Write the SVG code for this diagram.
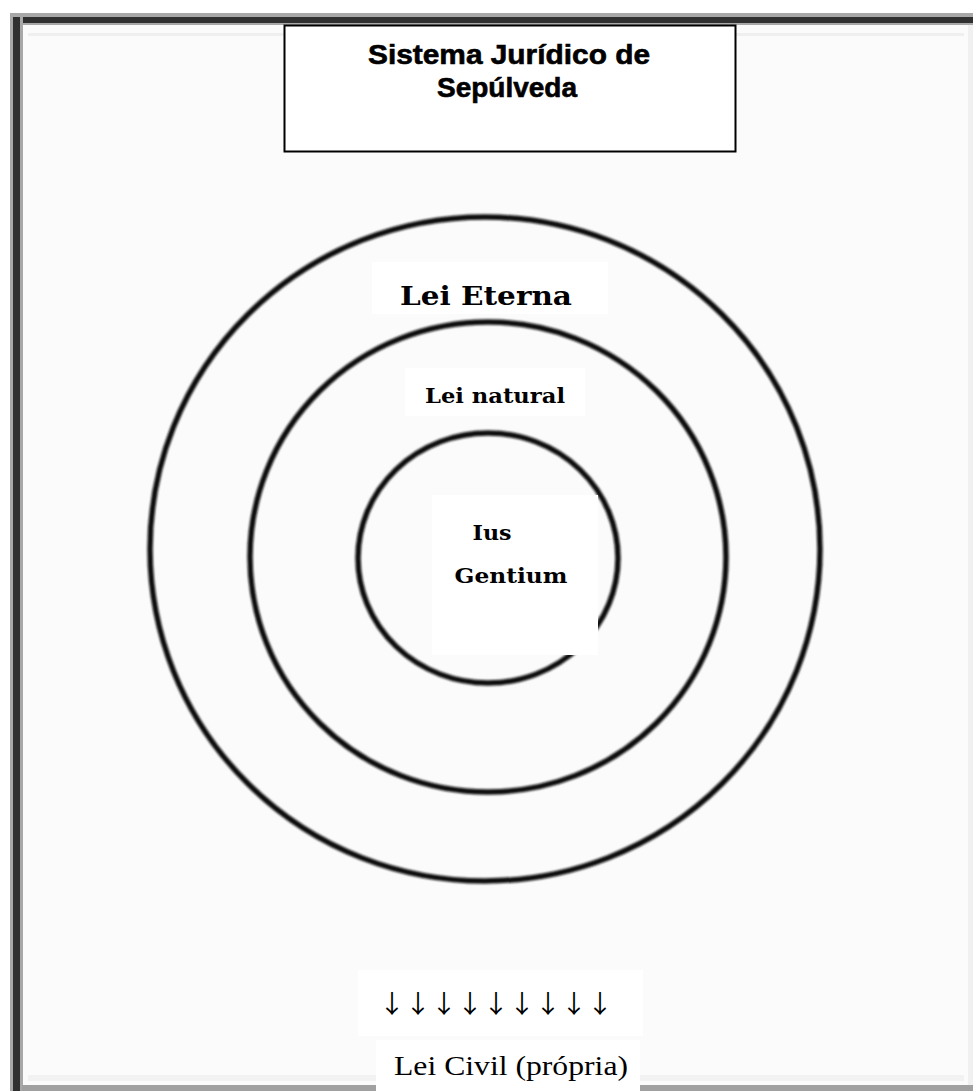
<svg xmlns="http://www.w3.org/2000/svg" width="973" height="1091" viewBox="0 0 973 1091">
<defs>
<filter id="soft" x="-5%" y="-5%" width="110%" height="110%"><feGaussianBlur stdDeviation="1"/></filter>
<style>
.ring{fill:none;stroke:#111;stroke-width:5.5;filter:url(#soft)}
.lbl{font-family:"DejaVu Serif","Liberation Serif",serif;font-weight:bold;fill:#000;text-anchor:middle}
.title{font-family:"Liberation Sans",Arial,sans-serif;font-weight:bold;font-size:28px;fill:#000;text-anchor:middle;stroke:#000;stroke-width:0.6}
.plain{font-family:"Liberation Serif","DejaVu Serif",serif;fill:#000;text-anchor:middle}
.arr{font-family:"Noto Sans CJK SC","DejaVu Sans",sans-serif;fill:#000;text-anchor:middle}
.bg{fill:#fff}
</style>
</defs>
<rect x="0" y="0" width="973" height="1091" fill="#fff"/>
<rect x="22" y="25" width="946" height="1062" fill="#fbfbfb"/>
<rect x="28" y="33" width="936" height="3" fill="#efefef"/>
<rect x="28" y="1075" width="936" height="6" fill="#f2f2f2"/>
<!-- frame -->
<rect x="10" y="13" width="963" height="12" fill="#a8a8a8"/>
<rect x="13" y="17" width="960" height="6" fill="#303030"/>
<rect x="10" y="13" width="13" height="1078" fill="#a8a8a8"/>
<rect x="13" y="17" width="7" height="1074" fill="#303030"/>
<rect x="22" y="1085" width="951" height="6" fill="#a0a0a0"/>
<rect x="968" y="25" width="5" height="1060" fill="#f0f0f0"/>
<g id="title">
<rect x="284.5" y="25.5" width="451" height="126" fill="#fff" stroke="#000" stroke-width="2"/>
<text class="title" x="509" y="64" textLength="282" lengthAdjust="spacingAndGlyphs">Sistema Jurídico de</text>
<text class="title" x="507" y="97">Sepúlveda</text>
</g>
<g id="lei-eterna">
<ellipse class="ring" cx="485" cy="549" rx="335" ry="332"/>
<rect class="bg" x="372" y="262" width="236" height="52"/>
<text class="lbl" x="486" y="305" font-size="26" textLength="172" lengthAdjust="spacingAndGlyphs">Lei Eterna</text>
</g>
<g id="lei-natural">
<ellipse class="ring" cx="488" cy="557" rx="238" ry="235"/>
<rect class="bg" x="405" y="368" width="180" height="48"/>
<text class="lbl" x="495" y="403" font-size="20" textLength="140" lengthAdjust="spacingAndGlyphs">Lei natural</text>
</g>
<g id="ius-gentium">
<ellipse class="ring" cx="488" cy="558" rx="130" ry="125"/>
<rect class="bg" x="432" y="495" width="166" height="160"/>
<text class="lbl" x="492" y="540" font-size="21" textLength="39" lengthAdjust="spacingAndGlyphs">Ius</text>
<text class="lbl" x="511" y="583" font-size="21" textLength="113" lengthAdjust="spacingAndGlyphs">Gentium</text>
</g>
<g id="connectors">
<rect class="bg" x="358" y="970" width="285" height="66"/>
<text class="arr" x="496" y="1013" font-size="25" textLength="234" lengthAdjust="spacingAndGlyphs">↓↓↓↓↓↓↓↓↓</text>
</g>
<g id="lei-civil">
<rect class="bg" x="376" y="1040" width="264" height="51"/>
<text class="plain" x="511" y="1075" font-size="27" textLength="234" lengthAdjust="spacingAndGlyphs">Lei Civil (própria)</text>
</g>
</svg>
